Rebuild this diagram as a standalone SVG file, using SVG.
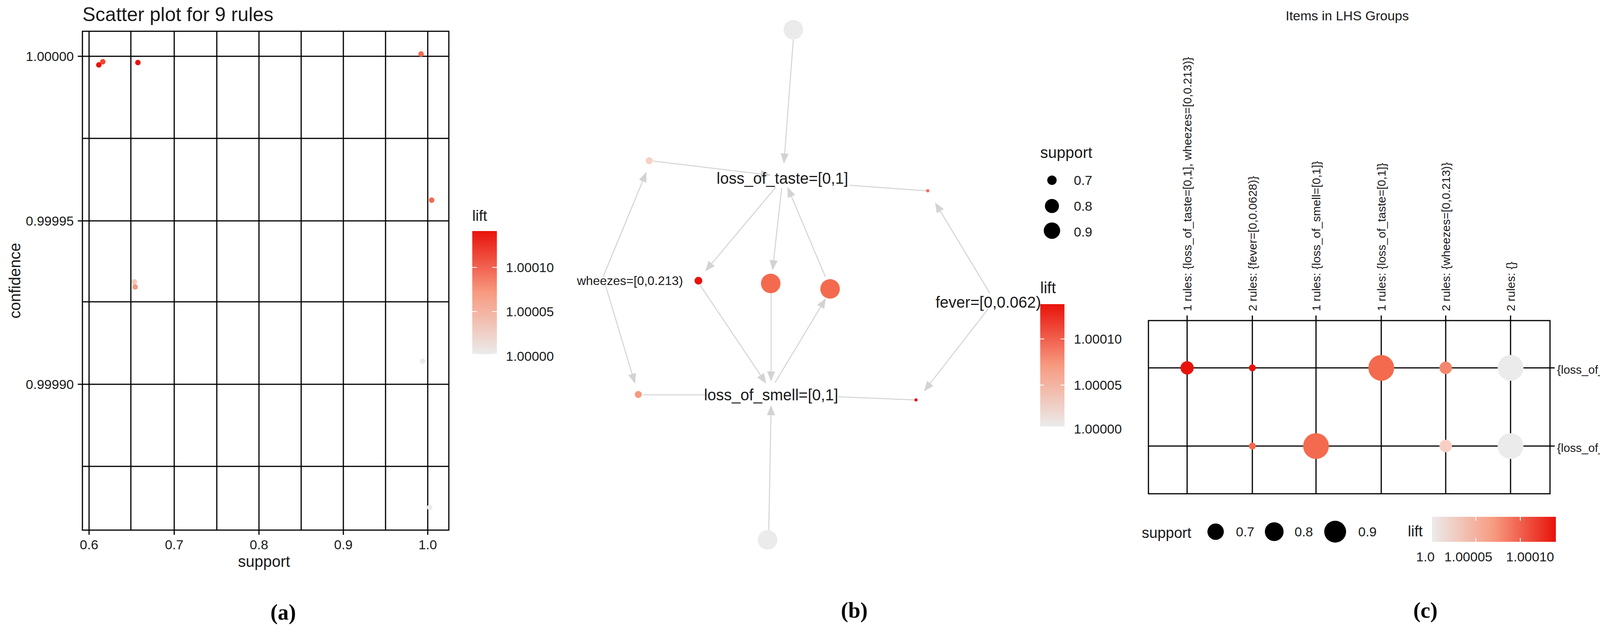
<svg xmlns="http://www.w3.org/2000/svg" width="4368" height="1632" viewBox="0 0 4368 1632">
<defs>
<style>
text{font-family:"Liberation Sans",Arial,sans-serif;fill:#1a1a1a}
.g{stroke:#000;stroke-width:3;fill:none}
.e{stroke:#d3d3d3;stroke-width:2.5;fill:none}
.ea{stroke:#d3d3d3;stroke-width:2.5;fill:none;marker-end:url(#ah2)}
.lab{font-family:"Liberation Serif","Times New Roman",serif;font-weight:bold;font-size:56px;fill:#000}
.t{font-size:34px}
</style>
<marker id="ah2" viewBox="0 0 10 10" refX="9" refY="5" markerWidth="26" markerHeight="26" markerUnits="userSpaceOnUse" orient="auto"><path d="M0,1L10,5L0,9z" fill="#d3d3d3"/></marker>
<linearGradient id="lg" x1="0" y1="1" x2="0" y2="0"><stop offset="0" stop-color="#ebebeb"/><stop offset="0.5" stop-color="#f79a80"/><stop offset="1" stop-color="#e8130b"/></linearGradient>
<linearGradient id="lgh" x1="0" y1="0" x2="1" y2="0"><stop offset="0" stop-color="#ebebeb"/><stop offset="0.5" stop-color="#f79a80"/><stop offset="1" stop-color="#e8130b"/></linearGradient>
</defs>
<rect width="4368" height="1632" fill="#fff"/>

<g id="panel-a">
<text x="211" y="54" font-size="50">Scatter plot for 9 rules</text>
<rect x="211" y="80" width="938" height="1276" class="g"/>
<g class="g">
<path d="M228,80V1368M335,80V1356M446,80V1368M555,80V1356M663,80V1368M771,80V1356M879,80V1368M987,80V1356M1095,80V1368"/>
<path d="M199,144H1149M211,354H1149M199,565H1149M211,772H1149M199,983H1149M211,1193H1149"/>
</g>
<g class="t" text-anchor="end">
<text x="189" y="156">1.00000</text><text x="189" y="577">0.99995</text><text x="189" y="995">0.99990</text>
</g>
<g class="t" text-anchor="middle">
<text x="228" y="1405">0.6</text><text x="446" y="1405">0.7</text><text x="663" y="1405">0.8</text><text x="879" y="1405">0.9</text><text x="1095" y="1405">1.0</text>
</g>
<text x="676" y="1450" font-size="40" text-anchor="middle">support</text>
<text transform="translate(52,718) rotate(-90)" font-size="40" text-anchor="middle">confidence</text>
<circle cx="253" cy="166" r="7" fill="#e8130b"/>
<circle cx="263" cy="158" r="7" fill="#f0462f"/>
<circle cx="353" cy="160" r="7" fill="#e8130b"/>
<circle cx="1078" cy="138" r="7" fill="#f46a4e"/>
<circle cx="1105" cy="512" r="7" fill="#f46a4e"/>
<circle cx="344" cy="721" r="7" fill="#f8c8b8"/>
<circle cx="346" cy="734" r="7" fill="#f79a82"/>
<circle cx="1082" cy="924" r="7" fill="#ebebeb"/>
<circle cx="1100" cy="1298" r="7" fill="#ebebeb"/>
<text x="1209" y="565" font-size="38">lift</text>
<rect x="1209" y="591" width="63" height="315" fill="url(#lg)"/>
<path d="M1209,684h12M1260,684h12M1209,797h12M1260,797h12M1209,906h12M1260,906h12" stroke="#fff" stroke-width="2"/>
<g class="t"><text x="1295" y="696">1.00010</text><text x="1295" y="809">1.00005</text><text x="1295" y="923">1.00000</text></g>
<text class="lab" x="725" y="1585" text-anchor="middle">(a)</text>
</g>

<g id="connectors">
<path class="ea" d="M2031,99L2007,416"/>
<path class="ea" d="M1672,412L1971,448"/>
<path class="ea" d="M1544,708L1654,442"/>
<path class="ea" d="M1986,479L1807,692"/>
<path class="ea" d="M2001,481L1978,689"/>
<path class="ea" d="M2113,708L2017,481"/>
<path class="e" d="M2175,474L2371,488"/>
<path class="ea" d="M2534,750L2395,520"/>
<path class="ea" d="M1548,723L1625,979"/>
<path class="e" d="M1647,1010L1811,1010"/>
<path class="ea" d="M1792,729L1960,979"/>
<path class="ea" d="M1974,750L1974,973"/>
<path class="ea" d="M1984,979L2113,765"/>
<path class="ea" d="M1968,1359L1974,1039"/>
<path class="e" d="M2146,1015L2343,1023"/>
<path class="ea" d="M2529,791L2367,999"/>
</g>

<g id="node-top"><circle cx="2031" cy="76" r="25" fill="#ebebeb"/></g>
<g id="node-bottom"><circle cx="1965" cy="1381" r="25" fill="#ebebeb"/></g>
<g id="node-tl"><circle cx="1662" cy="411" r="9" fill="#f8d0c4"/></g>
<g id="node-tr"><circle cx="2375" cy="488" r="4" fill="#f46a4e"/></g>
<g id="node-c1"><circle cx="1973" cy="725" r="25" fill="#f46a4e"/></g>
<g id="node-c2"><circle cx="2125" cy="739" r="25" fill="#f46a4e"/></g>
<g id="node-bl"><circle cx="1634" cy="1009" r="9" fill="#f59a80"/></g>
<g id="node-br"><circle cx="2345" cy="1023" r="4" fill="#e8130b"/></g>
<g id="node-wheezes"><circle cx="1788" cy="718" r="10" fill="#e8130b"/><text x="1477" y="729" font-size="32">wheezes=[0,0.213)</text></g>
<g id="node-taste"><text x="2003" y="470" font-size="40" text-anchor="middle">loss_of_taste=[0,1]</text></g>
<g id="node-smell"><text x="1974" y="1024" font-size="40" text-anchor="middle">loss_of_smell=[0,1]</text></g>
<g id="node-fever"><text x="2395" y="787" font-size="40">fever=[0,0.062)</text></g>

<g id="legend-b">
<text x="2663" y="404" font-size="40">support</text>
<circle cx="2693" cy="461" r="12" fill="#000"/><circle cx="2693" cy="527" r="18" fill="#000"/><circle cx="2693" cy="590" r="21" fill="#000"/>
<g class="t"><text x="2749" y="473">0.7</text><text x="2749" y="539">0.8</text><text x="2749" y="605">0.9</text></g>
<text x="2663" y="750" font-size="40">lift</text>
<rect x="2663" y="778" width="62" height="313" fill="url(#lg)"/>
<path d="M2663,867h10M2715,867h10M2663,985h10M2715,985h10" stroke="#fff" stroke-width="2"/>
<g class="t"><text x="2749" y="879">1.00010</text><text x="2749" y="997">1.00005</text><text x="2749" y="1109">1.00000</text></g>
<text class="lab" x="2187" y="1580" text-anchor="middle">(b)</text>
</g>

<g id="panel-c">
<text x="3449" y="52" font-size="34" text-anchor="middle">Items in LHS Groups</text>
<rect x="2940" y="820" width="1028" height="443" class="g"/>
<g class="g">
<path d="M3039,807V1263M3206,807V1263M3369,807V1263M3536,807V1263M3701,807V1263M3867,807V1263"/>
<path d="M2940,941H3980M2940,1141H3980"/>
</g>
<g font-size="30">
<text transform="translate(3050,796) rotate(-90)">1 rules: {loss_of_taste=[0,1], wheezes=[0,0.213)}</text>
<text transform="translate(3217,796) rotate(-90)">2 rules: {fever=[0,0.0628)}</text>
<text transform="translate(3380,796) rotate(-90)">1 rules: {loss_of_smell=[0,1]}</text>
<text transform="translate(3547,796) rotate(-90)">1 rules: {loss_of_taste=[0,1]}</text>
<text transform="translate(3712,796) rotate(-90)">2 rules: {wheezes=[0,0.213)}</text>
<text transform="translate(3878,796) rotate(-90)">2 rules: {}</text>
<text x="3986" y="956">{loss_of_smell=[0,1]}</text>
<text x="3986" y="1156">{loss_of_taste=[0,1]}</text>
<text transform="translate(4315,1034) rotate(90)" text-anchor="middle" font-size="34">RHS</text>
</g>
<circle cx="3039" cy="941" r="17" fill="#e8130b"/>
<circle cx="3206" cy="941" r="9" fill="#e8130b"/>
<circle cx="3536" cy="941" r="33" fill="#f46a4e"/>
<circle cx="3701" cy="941" r="16" fill="#f4876c"/>
<circle cx="3867" cy="941" r="33" fill="#ebebeb"/>
<circle cx="3206" cy="1141" r="9" fill="#f46a4e"/>
<circle cx="3369" cy="1141" r="33" fill="#f46a4e"/>
<circle cx="3701" cy="1141" r="16" fill="#f8cfc3"/>
<circle cx="3867" cy="1141" r="33" fill="#ebebeb"/>
<text x="2923" y="1376" font-size="38">support</text>
<circle cx="3112" cy="1360" r="21" fill="#000"/><circle cx="3262" cy="1360" r="24" fill="#000"/><circle cx="3418" cy="1360" r="28" fill="#000"/>
<g class="t"><text x="3164" y="1372">0.7</text><text x="3314" y="1372">0.8</text><text x="3477" y="1372">0.9</text></g>
<text x="3604" y="1372" font-size="38">lift</text>
<rect x="3666" y="1322" width="317" height="64" fill="url(#lgh)"/>
<path d="M3778,1322v10M3778,1376v10M3892,1322v10M3892,1376v10" stroke="#fff" stroke-width="2"/>
<g class="t" text-anchor="middle"><text x="3649" y="1436">1.0</text><text x="3759" y="1436">1.00005</text><text x="3917" y="1436">1.00010</text></g>
<text class="lab" x="3649" y="1580" text-anchor="middle">(c)</text>
</g>
</svg>
